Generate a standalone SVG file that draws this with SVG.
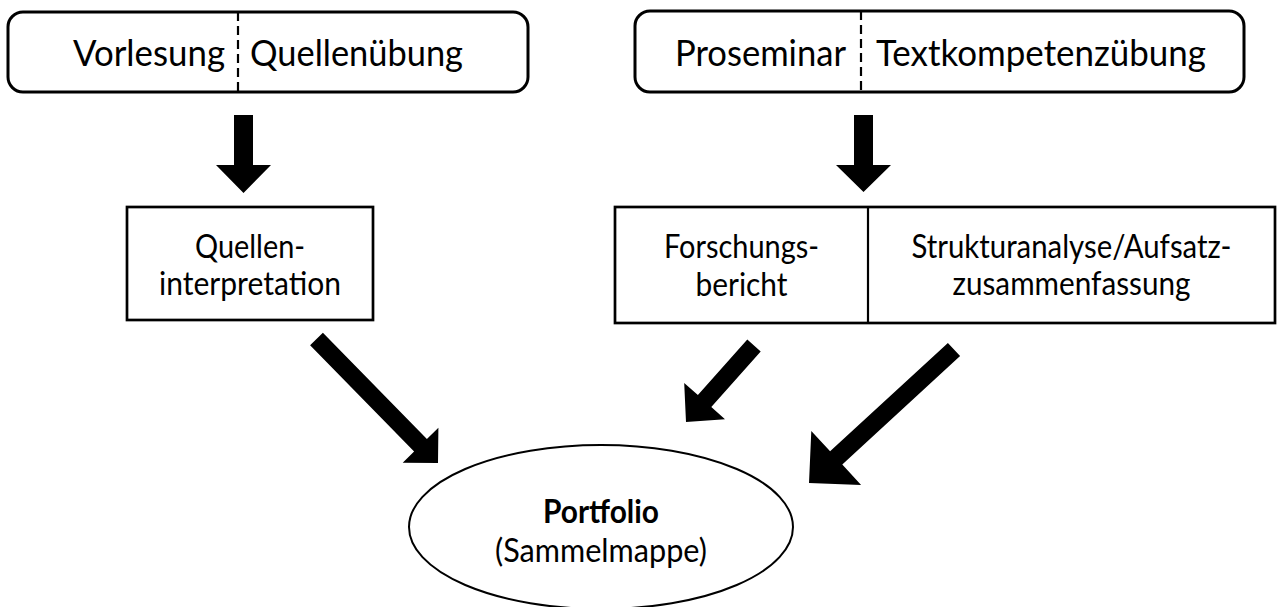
<svg xmlns="http://www.w3.org/2000/svg" width="1278" height="607" viewBox="0 0 1278 607">
<style>
  .box { fill: #fff; stroke: #000; stroke-width: 2.7; }
  .rbox { fill: #fff; stroke: #000; stroke-width: 3; }
  .div { stroke: #000; stroke-width: 2.2; }
  .dash { stroke: #000; stroke-width: 2.2; stroke-dasharray: 9 5; }
  .t37 { font-family: Lato, "Open Sans", "Liberation Sans", sans-serif; font-size: 37.3px; fill: #000; }
  .t32 { font-family: Lato, "Open Sans", "Liberation Sans", sans-serif; font-size: 32px; fill: #000; text-anchor: middle; }
  .b { font-weight: bold; }
  .arrow { fill: #000; }
</style>
<rect width="1278" height="607" fill="#fff"/>

<g id="node-vorlesung-quellenuebung">
  <rect class="rbox" x="8" y="12" width="520" height="80" rx="15" ry="15"/>
  <line class="dash" x1="238" y1="12" x2="238" y2="92"/>
  <text class="t37" x="225" y="66" text-anchor="end" textLength="152" lengthAdjust="spacingAndGlyphs">Vorlesung</text>
  <text class="t37" x="250" y="66" textLength="213" lengthAdjust="spacingAndGlyphs">Quellenübung</text>
</g>

<g id="node-proseminar-textkompetenz">
  <rect class="rbox" x="635" y="11" width="609" height="81" rx="15" ry="15"/>
  <line class="dash" x1="861" y1="11" x2="861" y2="92"/>
  <text class="t37" x="846" y="66" text-anchor="end" textLength="171" lengthAdjust="spacingAndGlyphs">Proseminar</text>
  <text class="t37" x="876" y="66" textLength="330" lengthAdjust="spacingAndGlyphs">Textkompetenzübung</text>
</g>

<g id="node-quelleninterpretation">
  <rect class="box" x="127" y="207" width="246" height="113"/>
  <text class="t32" x="250" y="258" textLength="110" lengthAdjust="spacingAndGlyphs">Quellen-</text>
  <text class="t32" x="250" y="295" textLength="182" lengthAdjust="spacingAndGlyphs">interpretation</text>
</g>

<g id="node-forschung-struktur">
  <rect class="box" x="615" y="207" width="660" height="116"/>
  <line class="div" x1="868" y1="207" x2="868" y2="323"/>
  <text class="t32" x="741.5" y="258" textLength="155" lengthAdjust="spacingAndGlyphs">Forschungs-</text>
  <text class="t32" x="741.5" y="296" textLength="92" lengthAdjust="spacingAndGlyphs">bericht</text>
  <text class="t32" x="1071.5" y="258" textLength="320" lengthAdjust="spacingAndGlyphs">Strukturanalyse/Aufsatz-</text>
  <text class="t32" x="1071.5" y="295" textLength="238" lengthAdjust="spacingAndGlyphs">zusammenfassung</text>
</g>

<g id="node-portfolio">
  <ellipse cx="601" cy="527" rx="192" ry="82" fill="#fff" stroke="#000" stroke-width="2"/>
  <text class="t32 b" x="601" y="523" textLength="116" lengthAdjust="spacingAndGlyphs">Portfolio</text>
  <text class="t32" x="601" y="562" textLength="212" lengthAdjust="spacingAndGlyphs">(Sammelmappe)</text>
</g>

<g id="connectors">
  <polygon class="arrow" points="234,115 253,115 253,165 271,165 243.5,193 216,165 234,165"/>
  <polygon class="arrow" points="854,115 873,115 873,165 891,165 863.5,192 836,165 854,165"/>
  <polygon class="arrow" points="310.1,345.3 414.1,451.5 402.7,462.7 438,463 438.4,427.7 426.9,438.9 322.9,332.7"/>
  <polygon class="arrow" points="747.3,339.5 697.9,395.1 684.2,383 686,422 725,419.2 711.3,407.1 760.7,351.5"/>
  <polygon class="arrow" points="947.9,342.9 830.1,451.3 811.3,430.9 809,483 861.1,485 842.3,464.6 960.1,356.1"/>
</g>
</svg>
